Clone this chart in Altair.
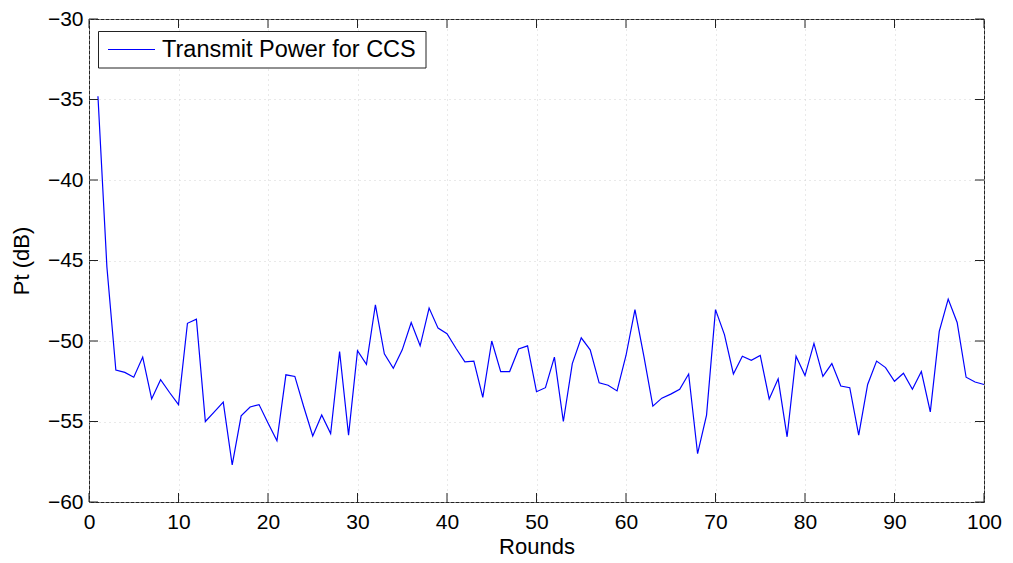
import altair as alt
import pandas as pd

rounds = list(range(1, 101))
pt_db = [
    -34.8, -45.4, -51.8, -51.95, -52.25, -51.0, -53.6, -52.4, -53.2, -53.95,
    -48.9, -48.65, -55.0, -54.4, -53.8, -57.7, -54.65, -54.1, -53.95, -55.1,
    -56.2, -52.1, -52.2, -54.1, -55.9, -54.6, -55.75, -50.65, -55.85, -50.6,
    -51.45, -47.75, -50.8, -51.7, -50.55, -48.85, -50.3, -47.95, -49.2, -49.55,
    -50.45, -51.3, -51.25, -53.5, -50.0, -51.9, -51.9, -50.5, -50.3, -53.15,
    -52.9, -51.0, -55.0, -51.4, -49.8, -50.55, -52.6, -52.75, -53.1, -50.9,
    -48.05, -50.95, -54.05, -53.55, -53.3, -53.0, -52.05, -57.0, -54.6, -48.05,
    -49.6, -52.05, -50.95, -51.2, -50.9, -53.6, -52.35, -55.95, -50.95, -52.15,
    -50.15, -52.2, -51.4, -52.8, -52.9, -55.85, -52.7, -51.25, -51.65, -52.5,
    -52.0, -53.0, -51.9, -54.4, -49.4, -47.4, -48.85, -52.25, -52.55, -52.7,
]
x_ticks = [0, 10, 20, 30, 40, 50, 60, 70, 80, 90, 100]
y_ticks = [-60, -55, -50, -45, -40, -35, -30]
series_name = ["Transmit Power for CCS"]

FONT = "Liberation Sans"
BLUE = "#0000ff"
W, H, TICK = 895, 483, 9

df = pd.DataFrame({"Rounds": rounds, "Pt": pt_db})
xt_df = pd.DataFrame({"Rounds": x_ticks})
yt_df = pd.DataFrame({"Pt": y_ticks})
legend_df = pd.DataFrame({"label": series_name})

xscale = alt.Scale(domain=[0, 100], nice=False, zero=False)
yscale = alt.Scale(domain=[-60, -30], nice=False, zero=False)

xaxis = alt.Axis(
    orient="bottom", values=x_ticks, title="Rounds", ticks=False, domain=False,
    grid=True, gridColor="#d2d2d2", gridDash=[1, 4], gridWidth=1,
    labelFont=FONT, labelFontSize=21, labelColor="black", labelPadding=9,
    labelFlush=False,
    titleFont=FONT, titleFontSize=22, titleFontWeight="normal", titleColor="black",
    titlePadding=4)
yaxis = alt.Axis(
    orient="left", values=y_ticks, title="Pt (dB)", ticks=False, domain=False,
    grid=True, gridColor="#d2d2d2", gridDash=[1, 4], gridWidth=1,
    labelFont=FONT, labelFontSize=21, labelColor="black", labelPadding=6,
    labelFlush=False,
    titleFont=FONT, titleFontSize=22, titleFontWeight="normal", titleColor="black",
    titlePadding=14)

X = alt.X("Rounds:Q", scale=xscale, axis=xaxis)
Y = alt.Y("Pt:Q", scale=yscale, axis=yaxis)

main = alt.Chart(df).mark_line(color=BLUE, strokeWidth=1.2).encode(x=X, y=Y)

# inward tick marks on all four sides (MATLAB style)
tick_style = dict(color="#222", strokeWidth=1)
xt_bottom = alt.Chart(xt_df).mark_rule(**tick_style).encode(
    x=X, y=alt.value(H), y2=alt.value(H - TICK))
xt_top = alt.Chart(xt_df).mark_rule(**tick_style).encode(
    x=X, y=alt.value(0), y2=alt.value(TICK))
yt_left = alt.Chart(yt_df).mark_rule(**tick_style).encode(
    y=Y, x=alt.value(0), x2=alt.value(TICK))
yt_right = alt.Chart(yt_df).mark_rule(**tick_style).encode(
    y=Y, x=alt.value(W), x2=alt.value(W - TICK))

leg_box = alt.Chart(legend_df).mark_rect(fill="white", stroke="#222", strokeWidth=1).encode(
    x=alt.value(9.5), x2=alt.value(337), y=alt.value(12.5), y2=alt.value(49))
leg_line = alt.Chart(legend_df).mark_rule(color=BLUE, strokeWidth=1.2).encode(
    x=alt.value(19), x2=alt.value(66), y=alt.value(30.5))
leg_text = alt.Chart(legend_df).mark_text(
    align="left", baseline="middle", font=FONT, fontSize=23.5, color="black").encode(
    x=alt.value(73), y=alt.value(31), text="label:N")

chart = alt.layer(
    main, xt_bottom, xt_top, yt_left, yt_right, leg_box, leg_line, leg_text
).properties(
    width=W, height=H,
    autosize=alt.AutoSizeParams(type="none"),
    padding={"left": 81, "top": 11, "right": 21, "bottom": 60},
    background="white",
).configure_view(stroke="#222", strokeWidth=1)

chart.save("out.html", embed_options={"renderer": "svg", "actions": False})
